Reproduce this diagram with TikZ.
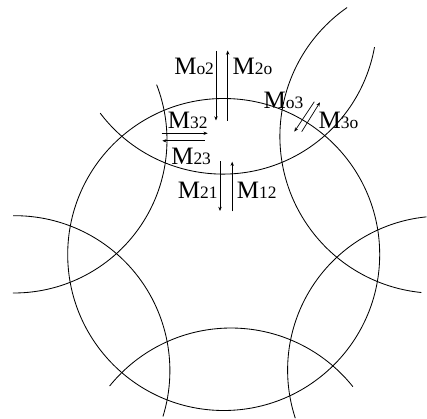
\documentclass[tikz,border=0pt]{standalone}
\usepackage{fontspec}
\setmainfont{Liberation Serif}
\usetikzlibrary{arrows.meta}
\newcommand{\msub}[1]{M{\fontsize{12.4}{14}\selectfont #1}}

\begin{document}
\begin{tikzpicture}[
            cell/.style={line width=0.6pt},
            msg/.style={line width=0.5pt, -{Stealth[length=3pt, width=2.4pt]}},
            lab/.style={font=\fontsize{17.8}{20}\selectfont, anchor=base west, inner sep=0pt},
        ]
            \useasboundingbox (-5.5925,-4.1125) rectangle (5.0825,6.3625);

            % Central cell
            \draw[cell] (0,0) circle (3.9);

            % Neighbouring cells, only the arcs near the central cell
            \draw[cell] ([shift={(217.2:3.85)}]-0.02,5.86) arc[start angle=217.2, end angle=349.9, radius=3.85];
            \draw[cell] ([shift={(124.9:3.925)}]5.33,2.955) arc[start angle=124.9, end angle=264.3, radius=3.925];
            \draw[cell] ([shift={(95.7:3.85)}]5.4475,-2.89) arc[start angle=95.7, end angle=198.2, radius=3.85];
            \draw[cell] ([shift={(38.6:3.9)}]0.1825,-5.7375) arc[start angle=38.6, end angle=141.1, radius=3.9];
            \draw[cell] ([shift={(-17.2:3.875)}]-5.22,-2.905) arc[start angle=-17.2, end angle=90.7, radius=3.875];
            \draw[cell] ([shift={(-90.4:3.825)}]-5.2425,2.8625) arc[start angle=-90.4, end angle=21.2, radius=3.825];

            % Arrow ends
            \coordinate (o2s) at (-0.1925, 5.0875);
            \coordinate (o2e) at (-0.1925, 3.35);
            \coordinate (2os) at (0.1, 3.3375);
            \coordinate (2oe) at (0.1, 5.1);
            \coordinate (21s) at (-0.0925, 2.325);
            \coordinate (21e) at (-0.0925, 1.0875);
            \coordinate (12s) at (0.2125, 1.075);
            \coordinate (12e) at (0.2125, 2.32);
            \coordinate (32s) at (-1.55, 3.03);
            \coordinate (32e) at (-0.4, 3.03);
            \coordinate (23s) at (-0.4675, 2.8425);
            \coordinate (23e) at (-1.535, 2.8425);
            \coordinate (o3s) at (2.265, 3.82);
            \coordinate (o3e) at (1.765, 3.07);
            \coordinate (3os) at (1.95, 3.07);
            \coordinate (3oe) at (2.4075, 3.805);

            % Messages
            \draw[msg] (o2s) -- (o2e);
            \draw[msg] (2os) -- (2oe);
            \draw[msg] (21s) -- (21e);
            \draw[msg] (12s) -- (12e);
            \draw[msg] (32s) -- (32e);
            \draw[msg] (23s) -- (23e);
            \draw[msg] (o3s) -- (o3e);
            \draw[msg] (3os) -- (3oe);

            % Labels
            \node[lab] (mo2) at (-1.2425, 4.5) {\msub{o2}};
            \node[lab] (m2o) at (0.215, 4.5) {\msub{2o}};
            \node[lab] (mo3) at (0.99, 3.655) {\msub{o3}};
            \node[lab] (m3o) at (2.365, 3.155) {\msub{3o}};
            \node[lab] (m32) at (-1.4, 3.15) {\msub{32}};
            \node[lab] (m23) at (-1.3175, 2.2375) {\msub{23}};
            \node[lab] (m21) at (-1.15, 1.3875) {\msub{21}};
            \node[lab] (m12) at (0.325, 1.3875) {\msub{12}};
        \end{tikzpicture}
\end{document}
